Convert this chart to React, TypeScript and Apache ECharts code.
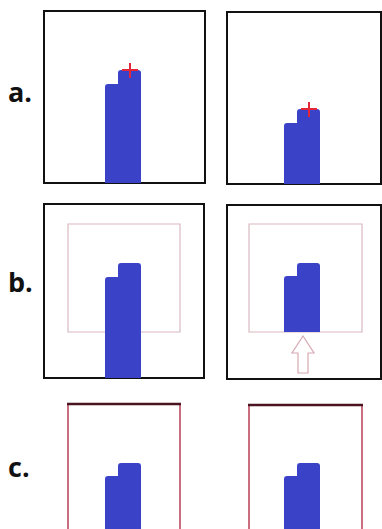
import React, { useEffect, useRef } from "react";
import * as echarts from "echarts";

// Panel labels
const labels = ["a.", "b.", "c."];
// Finger-shape blocks per panel: [leftTop, rightTop, bottom]
const panelNames = ["a-left", "a-right", "b-left", "b-right", "c-left", "c-right"];
const leftTops = [84, 123, 277, 276, 476, 476];
const rightTops = [70, 109, 263, 263, 463, 463];
const bottoms = [183, 184, 378, 332, 540, 540];
const columnX = [105, 284, 105, 284, 105, 284];

const BLUE = "#3a43c8";
const RED = "#e3263a";
const PINK = "#d9b9c0";

export default function App() {
  const ref = useRef<HTMLDivElement>(null);
  useEffect(() => {
    const chart = echarts.init(ref.current!, null, { renderer: "svg" });
    const g: any[] = [];
    // outer black boxes (rows a and b)
    const boxes = [
      [44, 11, 205, 183],
      [227, 12, 381, 184],
      [44, 204, 204, 378],
      [227, 205, 381, 379],
    ];
    boxes.forEach((b) =>
      g.push({
        type: "rect",
        shape: { x: b[0], y: b[1], width: b[2] - b[0], height: b[3] - b[1] },
        style: { fill: "#fff", stroke: "#111", lineWidth: 2 },
        z: 1,
      })
    );
    // b inner pink frames
    [[68, 224, 180, 332], [249, 224, 362, 332]].forEach((b) =>
      g.push({
        type: "rect",
        shape: { x: b[0], y: b[1], width: b[2] - b[0], height: b[3] - b[1] },
        style: { fill: "none", stroke: PINK, lineWidth: 1.2 },
        z: 2,
      })
    );
    // finger shapes
    panelNames.forEach((_, i) => {
      const x = columnX[i];
      g.push({
        type: "rect",
        shape: { x, y: leftTops[i], width: 15, height: bottoms[i] - leftTops[i], r: [3, 0, 0, 0] },
        style: { fill: BLUE },
        z: 3,
      });
      g.push({
        type: "rect",
        shape: { x: x + 13, y: rightTops[i], width: 23, height: bottoms[i] - rightTops[i], r: [3, 3, 0, 0] },
        style: { fill: BLUE },
        z: 3,
      });
    });
    // red crosses in row a
    [[130, 70], [309, 109]].forEach(([cx, cy]) => {
      g.push({ type: "line", shape: { x1: cx, y1: cy - 7, x2: cx, y2: cy + 8 }, style: { stroke: RED, lineWidth: 2 }, z: 4 });
      g.push({ type: "line", shape: { x1: cx - 8, y1: cy, x2: cx + 8, y2: cy }, style: { stroke: RED, lineWidth: 2 }, z: 4 });
    });
    // b pink frames redrawn on top (visible over shape slightly)
    // arrow in b-right
    g.push({
      type: "polygon",
      shape: { points: [[303, 336], [314, 353], [308, 353], [308, 373], [298, 373], [298, 353], [292, 353]] },
      style: { fill: "#fff", stroke: "#d6a8b2", lineWidth: 1.2 },
      z: 4,
    });
    // c frames: pink sides + dark top
    [[68, 404, 180], [249, 405, 362]].forEach(([x1, y, x2]) => {
      g.push({ type: "line", shape: { x1, y1: y, x2: x1, y2: 540 }, style: { stroke: "#c96f7f", lineWidth: 2 }, z: 2 });
      g.push({ type: "line", shape: { x1: x2, y1: y, x2, y2: 540 }, style: { stroke: "#c96f7f", lineWidth: 2 }, z: 2 });
      g.push({ type: "line", shape: { x1: x1 - 1, y1: y, x2: x2 + 1, y2: y }, style: { stroke: "#4a1420", lineWidth: 2.5 }, z: 2 });
    });
    // labels
    const labelBase = [105, 295, 480];
    labels.forEach((t, i) =>
      g.push({
        type: "text",
        x: 8,
        y: labelBase[i],
        style: {
          text: t,
          fill: "#111",
          font: "bold 27px 'Open Sans', sans-serif",
          textAlign: "left",
          textVerticalAlign: "bottom",
          verticalAlign: "alphabetic" as any,
        },
        z: 5,
      })
    );
    chart.setOption({ animation: false, backgroundColor: "#fff", graphic: g });
    return () => chart.dispose();
  }, []);
  return (
    <div
      ref={ref}
      style={{ position: "fixed", left: 0, top: 0, width: 382, height: 529 }}
    />
  );
}
